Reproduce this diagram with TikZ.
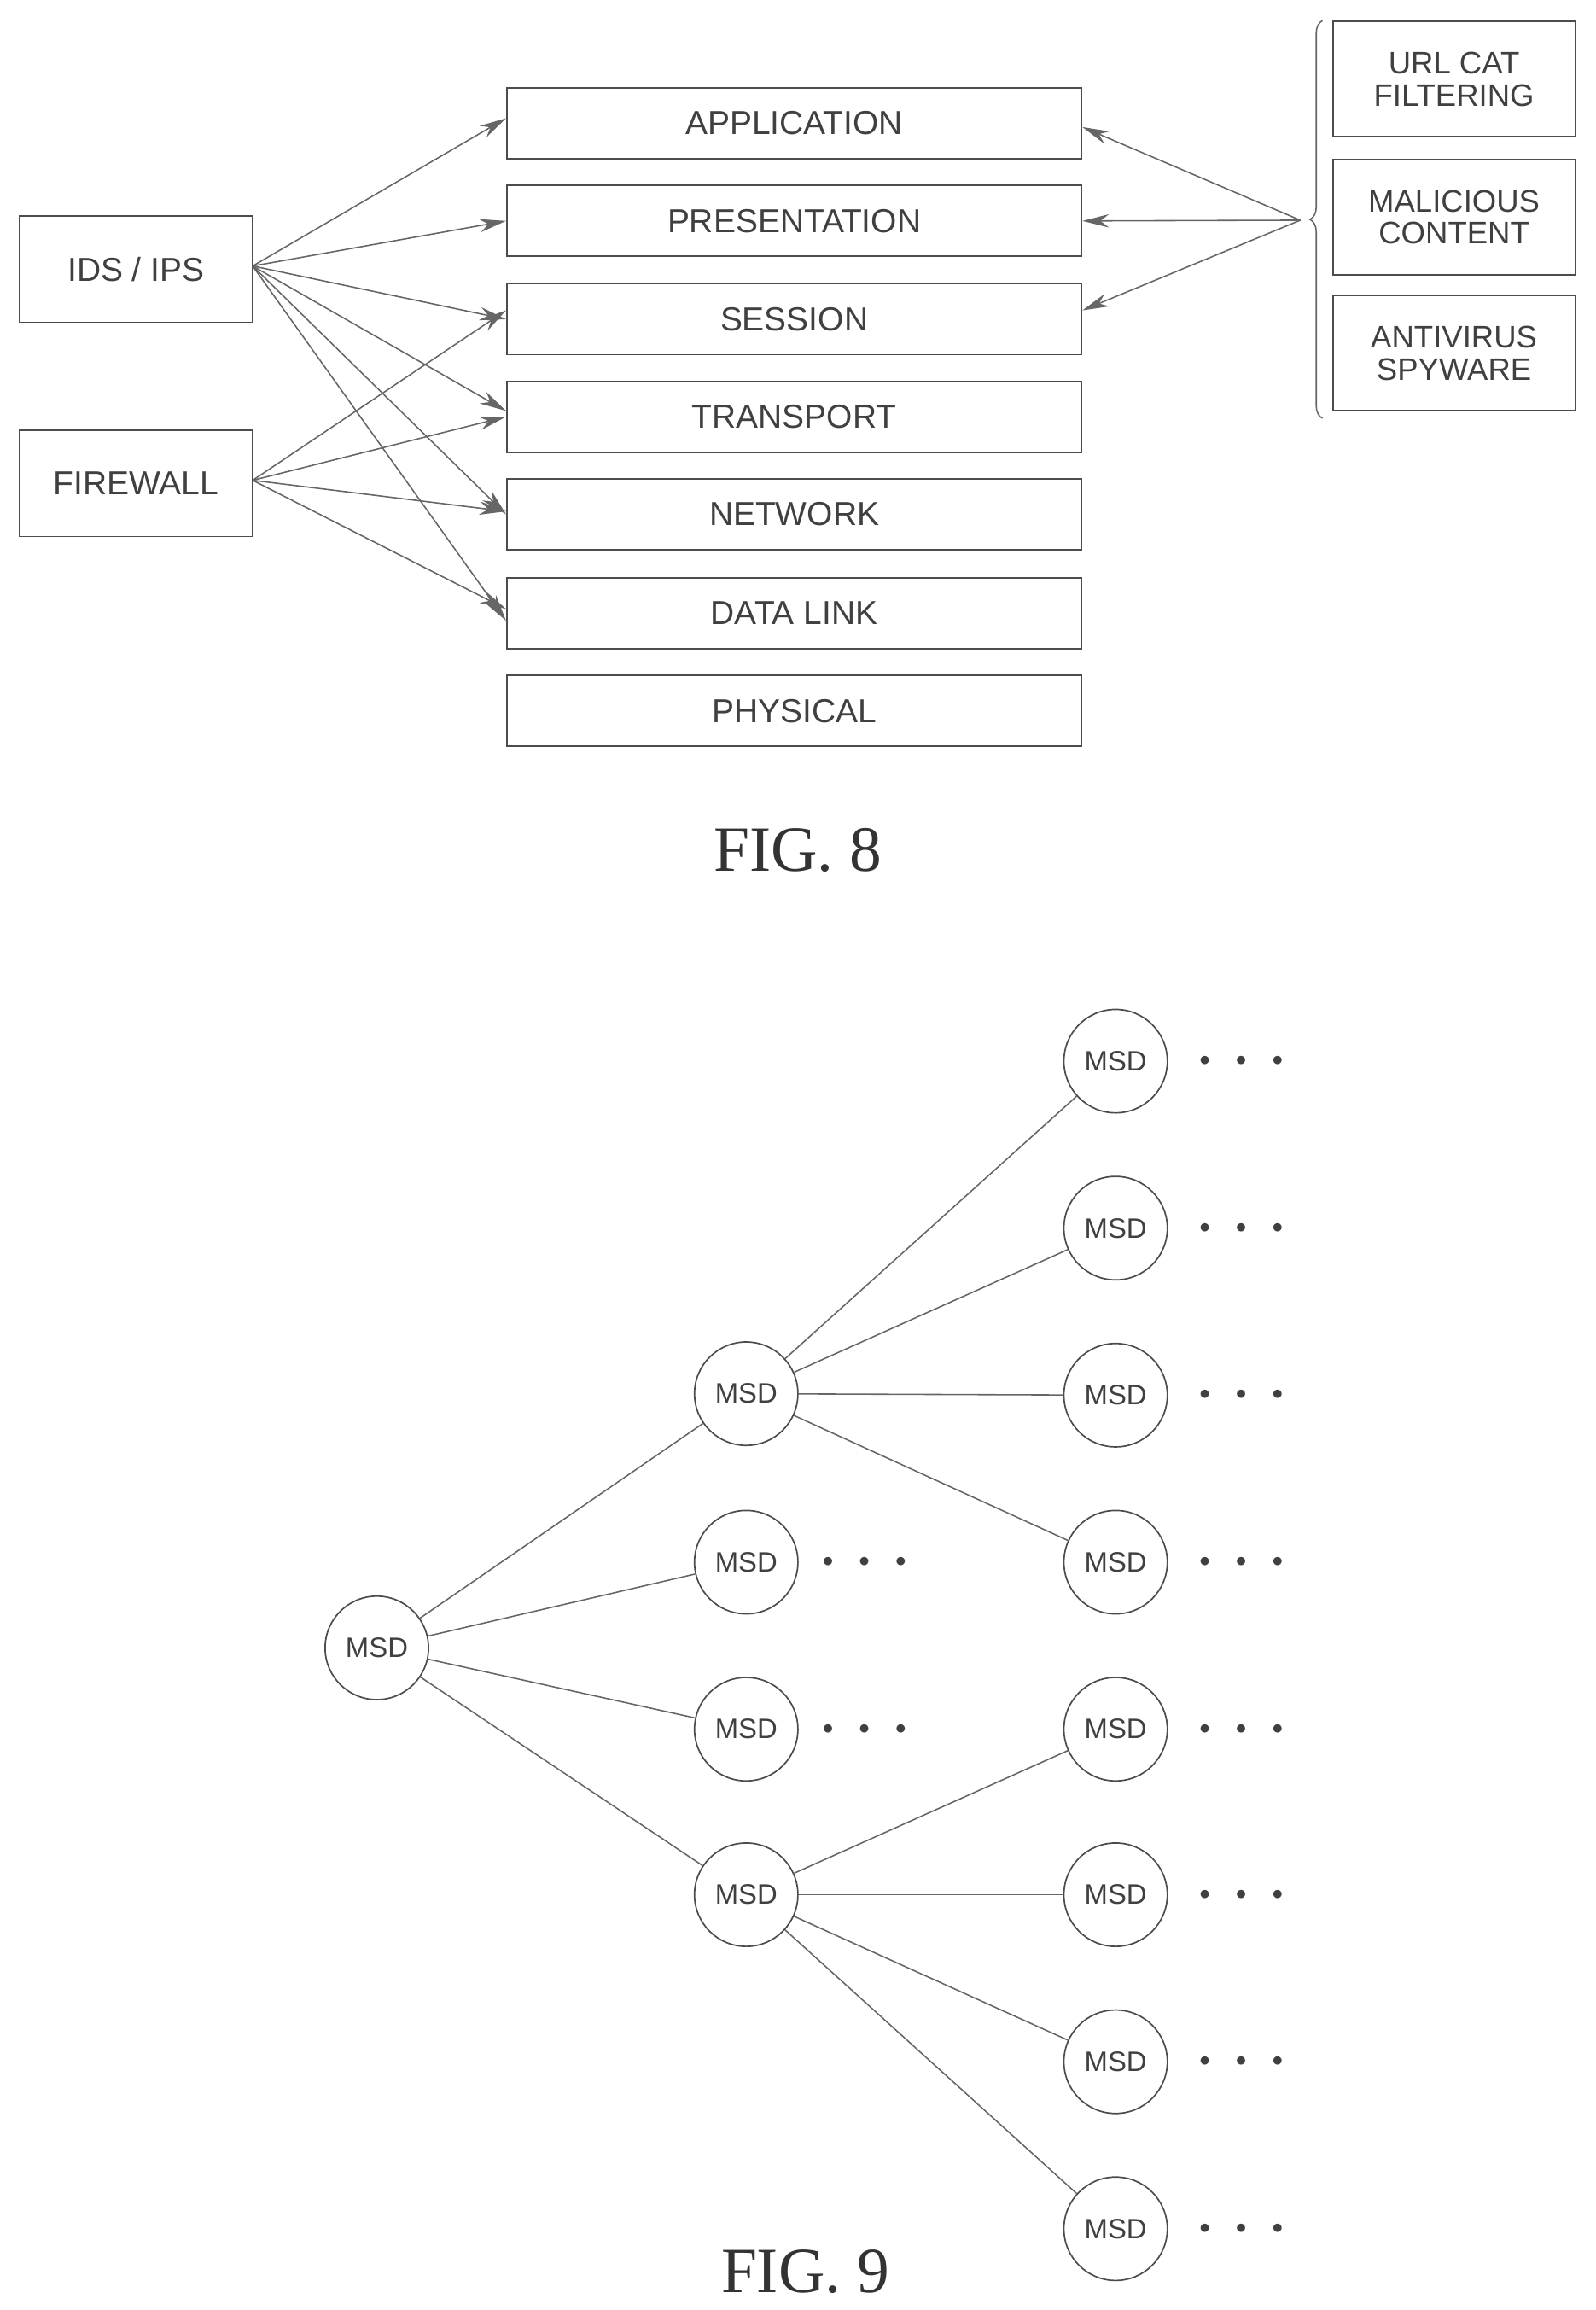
\documentclass[tikz,border=0pt]{standalone}
\usepackage{fontspec}
\setmainfont{Liberation Sans}
\newfontfamily\capfont{Liberation Serif}
\usetikzlibrary{arrows.meta,decorations.pathreplacing}
\begin{document}
\begin{tikzpicture}[x=0.5mm,y=-0.5mm,
  every node/.style={font=\fontsize{32}{36}\selectfont, text=black!75},
  lay/.style={draw=black!70,line width=1.5pt,minimum width=194.5mm,minimum height=24mm,inner sep=0pt},
  side/.style={draw=black!70,line width=1.5pt,minimum width=79mm,minimum height=36mm,inner sep=0pt},
  rbox/.style={draw=black!70,line width=1.5pt,minimum width=82mm,minimum height=39mm,inner sep=0pt,align=center,font=\fontsize{30}{31}\selectfont},
  msd/.style={circle,draw=black!70,line width=1.4pt,minimum size=35mm,inner sep=0pt,font=\fontsize{27}{30}\selectfont},
  arr/.style={-{Stealth[length=9mm,width=4.5mm]},draw=black!60,line width=1.3pt},
  ln/.style={draw=black!60,line width=1.3pt},
  dots/.style={font=\fontsize{20}{20}\selectfont},
  figcap/.style={font=\capfont\fontsize{62}{70}\selectfont,text=black!80}]
\useasboundingbox (0,0) rectangle (1080,1563);
% FIG 8
\node[lay] (app) at (537.5,83.5) {APPLICATION};
\node[lay] (pre) at (537.5,149.5) {PRESENTATION};
\node[lay] (ses) at (537.5,216) {SESSION};
\node[lay] (tra) at (537.5,282) {TRANSPORT};
\node[lay] (net) at (537.5,348) {NETWORK};
\node[lay] (dat) at (537.5,415) {DATA LINK};
\node[lay] (phy) at (537.5,481) {PHYSICAL};
\node[side] (ids) at (92,182) {IDS / IPS};
\node[side] (fw) at (92,327) {FIREWALL};
\node[rbox] (url) at (984,53.5) {URL CAT\\FILTERING};
\node[rbox] (mal) at (984,147) {MALICIOUS\\CONTENT};
\node[rbox] (ant) at (984,239) {ANTIVIRUS\\SPYWARE};
\coordinate (ia) at (171,180);
\coordinate (fa) at (171,325);
\draw[arr] (ia) -- (app.west|-0,80);
\draw[arr] (ia) -- (pre.west);
\draw[arr] (ia) -- (ses.west);
\draw[arr] (ia) -- (tra.west|-0,278);
\draw[arr] (ia) -- (net.west);
\draw[arr] (ia) -- (dat.west|-0,420);
\draw[arr] (fa) -- (ses.west|-0,210);
\draw[arr] (fa) -- (tra.west|-0,282);
\draw[arr] (fa) -- (net.west|-0,346);
\draw[arr] (fa) -- (dat.west|-0,412);
\draw[ln,decorate,decoration={brace,amplitude=12pt}] (895,283) -- (895,14) coordinate (bt);
\coordinate (tip) at (880,149);
\draw[arr] (tip) -- (app.east|-0,86);
\draw[arr] (tip) -- (pre.east);
\draw[arr] (tip) -- (ses.east|-0,210);
\node[figcap] (f8) at (540,575) {FIG. 8};
% FIG 9
\node[msd] (r) at (255,1115) {MSD};
\node[msd] (m1) at (505,943) {MSD};
\node[msd] (m2) at (505,1057) {MSD};
\node[msd] (m3) at (505,1170) {MSD};
\node[msd] (m4) at (505,1282) {MSD};
\foreach \i/\y in {1/718,2/831,3/944,4/1057,5/1170,6/1282,7/1395,8/1508}{
  \node[msd] (l\i) at (755,\y) {MSD};
  \node[dots] (d\i) at (840,\y) {$\bullet\quad\bullet\quad\bullet$};
}
\node[dots] (dm2) at (585,1057) {$\bullet\quad\bullet\quad\bullet$};
\node[dots] (dm3) at (585,1170) {$\bullet\quad\bullet\quad\bullet$};
\foreach \m in {m1,m2,m3,m4}{\draw[ln] (r) -- (\m);}
\foreach \l in {l1,l2,l3,l4}{\draw[ln] (m1) -- (\l);}
\foreach \l in {l5,l6,l7,l8}{\draw[ln] (m4) -- (\l);}
\node[figcap] (f9) at (545,1537) {FIG. 9};
\end{tikzpicture}
\end{document}
